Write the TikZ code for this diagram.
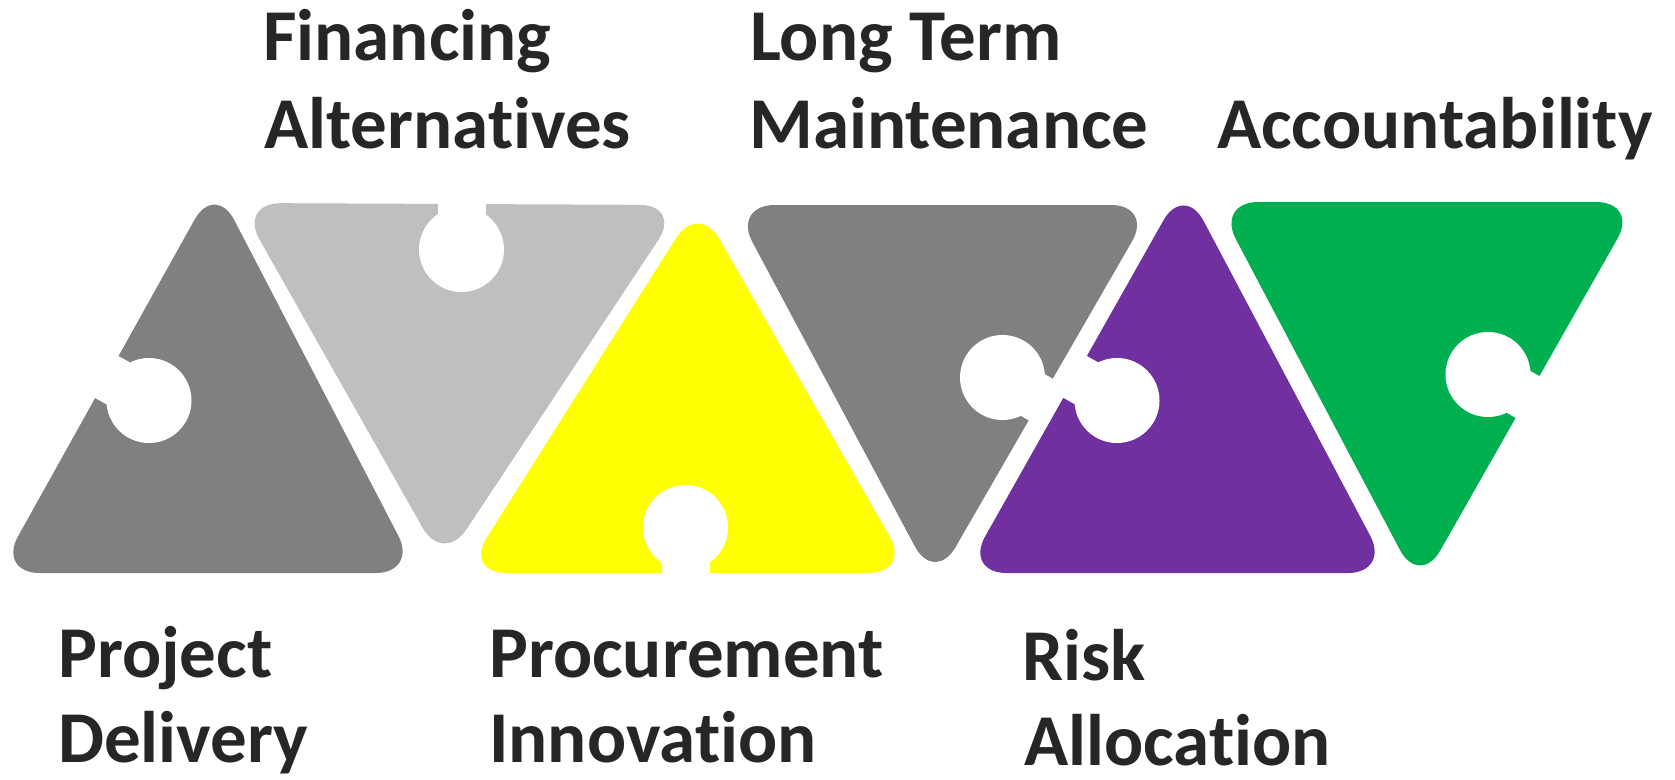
\documentclass[tikz,border=0pt]{standalone}
\usepackage{fontspec}
\setmainfont{Carlito}[RawFeature={-liga;-clig;-dlig;-calt}]
\usetikzlibrary{calc}
\definecolor{pgray}{HTML}{808080}
\definecolor{plgray}{HTML}{BFBFBF}
\definecolor{pyellow}{HTML}{FFFF00}
\definecolor{ppurple}{HTML}{7030A0}
\definecolor{pgreen}{HTML}{00B050}
\definecolor{txt}{HTML}{262626}
\begin{document}
\begin{tikzpicture}[x=1pt,y=-1pt,
  piece/.style={rounded corners=42pt},
  hole/.style={fill=white},
  neck/.style={draw=white, line width=48pt, line cap=butt},
  lbl/.style={anchor=base west, inner sep=0pt, text depth=0pt, text=txt, font=\fontsize{73}{88}\selectfont\bfseries}]
\useasboundingbox (0,0) rectangle (1675,779);
% pieces
\fill[pgray, piece] (200,573) -- (-2.4,573) -- (215,183) -- (417.7,573) -- cycle;
\fill[plgray, piece] (460,204) -- (681.5,205) -- (443.3,564.3) -- (238.8,203) -- cycle;
\fill[pyellow, piece] (690,573) -- (464.4,573) -- (698.5,202.6) -- (910.5,573) -- cycle;
\fill[pgray, piece] (940,205) -- (1153,205) -- (934.6,583.4) -- (732.6,205) -- cycle;
\fill[ppurple, piece] (1180,573) -- (964.5,573) -- (1184,183.9) -- (1389.9,573) -- cycle;
\fill[pgreen, piece] (1420,202) -- (1638.3,202) -- (1419.5,587) -- (1216.2,202) -- cycle;
% sockets
\coordinate (c1) at (149,400.5);   \coordinate (e1) at (100.1,373.3);
\coordinate (c2) at (461.5,249.5); \coordinate (e2) at (461.5,193.5);
\coordinate (c3) at (685.5,527.5); \coordinate (e3) at (685.5,583.5);
\coordinate (c4) at (1002.5,377.5);\coordinate (e4) at (1051.0,405.5);
\coordinate (c5) at (1117,400.5);  \coordinate (e5) at (1068.2,373.0);
\coordinate (c6) at (1488,374.5);  \coordinate (e6) at (1536.7,402.2);
\foreach \i in {1,...,6}{
  \fill[hole] (c\i) circle (42.5);
  \draw[neck] (c\i) -- (e\i);
}
% labels
\node[lbl] (fin) at (263,60) {Financing};
\node[lbl] (alt) at (264,148) {Alternatives};
\node[lbl] (lon) at (750,60) {Long Term};
\node[lbl] (mai) at (749,148) {Maintenance};
\node[lbl] (acc) at (1217,148) {Accountability};
\node[lbl] (pro) at (58,677) {Project};
\node[lbl] (del) at (58,762) {Delivery};
\node[lbl] (prc) at (489,677) {Procurement};
\node[lbl] (inn) at (489,762) {Innovation};
\node[lbl] (ris) at (1022,680) {Risk};
\node[lbl] (all) at (1024,765) {Allocation};
\end{tikzpicture}
\end{document}
